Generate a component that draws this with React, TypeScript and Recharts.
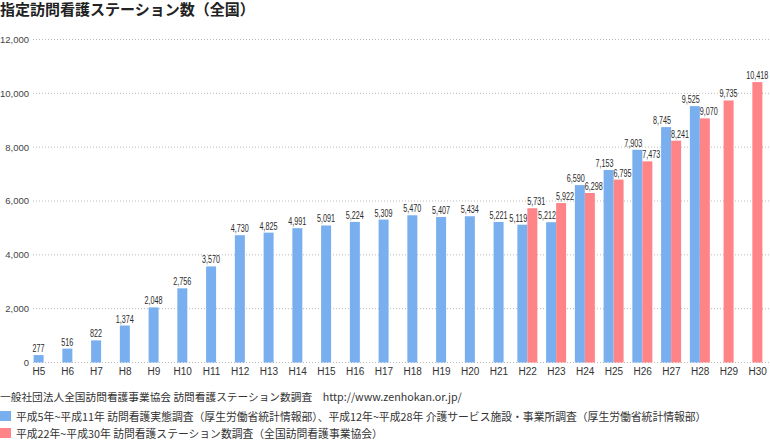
import React from 'react';
import { BarChart, Bar, XAxis, YAxis, CartesianGrid } from 'recharts';

const categories = ['H5','H6','H7','H8','H9','H10','H11','H12','H13','H14','H15','H16','H17','H18','H19','H20','H21','H22','H23','H24','H25','H26','H27','H28','H29','H30'];
const blueValues: (number | null)[] = [277,516,822,1374,2048,2756,3570,4730,4825,4991,5091,5224,5309,5470,5407,5434,5221,5119,5212,6590,7153,7903,8745,9525,null,null];
const redValues: (number | null)[] = [null,null,null,null,null,null,null,null,null,null,null,null,null,null,null,null,null,5731,5922,6298,6795,7473,8241,9070,9735,10418];
const yTicks = [0,2000,4000,6000,8000,10000,12000];

const data = categories.map((c, i) => ({ name: c, blue: blueValues[i], red: redValues[i] }));

const BLUE = '#7AAFEF';
const RED = '#FF8488';
const JP = '"Noto Sans CJK JP", sans-serif';
const LAT = '"Liberation Sans", Arial, sans-serif';

const fmt = (v: number) => v.toLocaleString('en-US');

const valueText = (x: number, y: number, anchor: 'start' | 'middle' | 'end', v: number) => {
  const s = fmt(v);
  let len = 0;
  for (const ch of s) len += ch === ',' ? 2 : 4;
  return (
    <text x={x} y={y - 3} textAnchor={anchor} fontSize={10} fontFamily={LAT} fill="#2a2a2a" textLength={len} lengthAdjust="spacingAndGlyphs">
      {s}
    </text>
  );
};

const BlueShape = (props: any) => {
  const { x, y, width, height, payload } = props;
  if (height == null || isNaN(height) || payload == null || payload.blue == null) return null;
  const single = payload.red == null;
  const dx = single ? width / 2 : 0;
  return (
    <g>
      <rect x={x + dx} y={y} width={width} height={height} fill={BLUE} />
      {valueText(x + width, y, single ? 'middle' : 'end', payload.blue)}
    </g>
  );
};
const RedShape = (props: any) => {
  const { x, y, width, height, payload } = props;
  if (height == null || isNaN(height) || payload == null || payload.red == null) return null;
  const single = payload.blue == null;
  const dx = single ? -width / 2 : 0;
  return (
    <g>
      <rect x={x + dx} y={y} width={width} height={height} fill={RED} />
      {valueText(x, y, single ? 'middle' : 'start', payload.red)}
    </g>
  );
};

export default function App() {
  return (
    <div style={{ position: 'absolute', left: 0, top: 0, width: 770, height: 440, overflow: 'hidden', background: '#fff' }}>
      <div style={{ position: 'absolute', left: 0, top: 0 }}>
        <BarChart width={770} height={385} data={data} margin={{ top: 39.5, right: 0, bottom: 0.5, left: 0 }} barGap={0} barSize={10}>
          <CartesianGrid vertical={false} stroke="#bbb" strokeDasharray="1 2" />
          <XAxis dataKey="name" axisLine={false} tickLine={false} tickSize={0} tickMargin={5.5} height={22} padding={{ left: -8.4, right: -2.1 }} interval={0} tick={{ fontSize: 10, fontFamily: LAT, fill: '#333' }} />
          <YAxis domain={[0, 12000]} ticks={yTicks} width={33} axisLine={false} tickLine={false} tickSize={0} tickMargin={4} tickFormatter={(v: number) => fmt(v)} tick={{ fontSize: 9.5, fontFamily: LAT, fill: '#444' }} />
          <Bar dataKey="blue" fill={BLUE} shape={BlueShape} isAnimationActive={false} />
          <Bar dataKey="red" fill={RED} shape={RedShape} isAnimationActive={false} />
        </BarChart>
      </div>
      <div style={{ position: 'absolute', left: 0, top: 0, fontFamily: JP, fontWeight: 700, fontSize: 15, lineHeight: '17px', color: '#222', whiteSpace: 'nowrap' }}>
        指定訪問看護ステーション数（全国）
      </div>
      <div style={{ position: 'absolute', left: 0, top: 390.5, fontFamily: JP, fontSize: 10.7, lineHeight: '11px', color: '#333', whiteSpace: 'nowrap' }}>
        一般社団法人全国訪問看護事業協会 訪問看護ステーション数調査　http://www.zenhokan.or.jp/
      </div>
      <div style={{ position: 'absolute', left: 0, top: 411, width: 11, height: 10, background: BLUE }} />
      <div style={{ position: 'absolute', left: 16, top: 410.5, fontFamily: JP, fontSize: 10.8, lineHeight: '11px', color: '#333', whiteSpace: 'nowrap' }}>
        平成5年~平成11年 訪問看護実態調査（厚生労働省統計情報部）、平成12年~平成28年 介護サービス施設・事業所調査（厚生労働省統計情報部）
      </div>
      <div style={{ position: 'absolute', left: 0, top: 428, width: 11, height: 10, background: RED }} />
      <div style={{ position: 'absolute', left: 16, top: 427.5, fontFamily: JP, fontSize: 10.8, lineHeight: '11px', color: '#333', whiteSpace: 'nowrap' }}>
        平成22年~平成30年 訪問看護ステーション数調査（全国訪問看護事業協会）
      </div>
    </div>
  );
}
